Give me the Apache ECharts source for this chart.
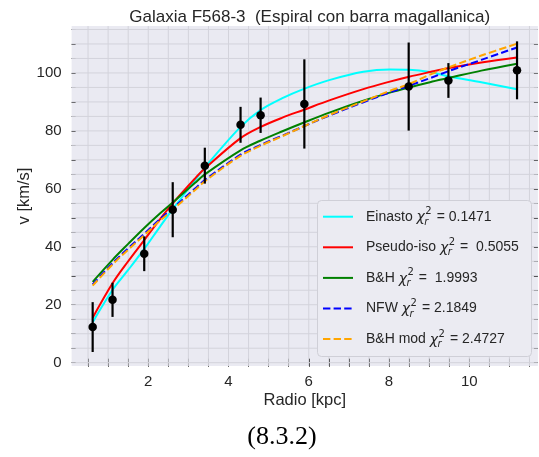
<!DOCTYPE html>
<html><head><meta charset="utf-8">
<script src="https://cdn.jsdelivr.net/npm/echarts@6/dist/echarts.min.js"></script>
<style>html,body{margin:0;padding:0;background:#fff;} #c{width:539px;height:457px;}</style>
</head><body><div id="c"></div>
<script>
// ---- observed data ----
const radius = [0.615, 1.11, 1.90, 2.61, 3.41, 4.30, 4.80, 5.89, 8.49, 9.48, 11.19];
const velocity = [12.3, 21.7, 37.6, 52.8, 68.0, 82.1, 85.4, 89.3, 95.3, 97.4, 100.9];
const velocityErr = [8.6, 5.9, 6.0, 9.5, 6.2, 6.2, 6.1, 15.4, 15.2, 6.0, 10.0];

// ---- model curves ----
const curveR    = [0.615, 1.11, 1.5, 1.9, 2.29, 2.61, 3.16, 3.41, 4.3, 4.79, 5.33, 5.88, 6.53, 7.36, 8.02, 8.5, 9.02, 9.5, 10.3, 11.19];
const einasto   = [14.0, 25.1, 32.0, 39.3, 46.9, 53.0, 62.8, 67.4, 81.4, 87.1, 91.2, 94.5, 97.6, 100.4, 101.2, 101.1, 100.3, 98.8, 96.8, 94.4];
const pseudoIso = [15.5, 27.4, 35.0, 42.3, 49.5, 55.0, 63.5, 67.0, 77.5, 81.3, 84.5, 87.3, 90.6, 94.4, 97.0, 98.7, 100.3, 101.7, 103.6, 105.3];
const bh        = [27.9, 35.5, 41.0, 46.5, 51.5, 55.3, 62.0, 65.0, 73.3, 76.6, 79.8, 82.9, 86.4, 90.4, 93.2, 95.0, 96.8, 98.3, 100.8, 103.2];
const nfw       = [27.0, 34.3, 39.5, 44.5, 49.5, 53.3, 60.0, 63.0, 71.8, 75.1, 78.3, 81.6, 85.4, 89.9, 93.3, 95.6, 98.2, 100.7, 104.5, 108.8];
const bhMod     = [26.6, 33.9, 39.0, 44.0, 49.0, 52.8, 59.5, 62.6, 71.4, 74.8, 78.1, 81.6, 85.6, 90.2, 93.8, 96.2, 99.4, 102.0, 106.0, 110.1];

const modelNames = ['Einasto', 'Pseudo-iso', 'B&H', 'NFW', 'B&H mod'];
const chi2Text   = ['= 0.1471', '=  0.5055', '=  1.9993', '= 2.1849', '= 2.4727'];

// ---- ticks ----
const xTickLabels = [2, 4, 6, 8, 10];
const yTickLabels = [0, 20, 40, 60, 80, 100];
const xMinorStep = 0.5, yMinorStep = 5;
const xRange = [0.09, 11.71], yRange = [-1.14, 116.2];

const xMinor = [], yMinor = [];
for (let k = 1; k * xMinorStep < xRange[1]; k++) xMinor.push(+(k * xMinorStep).toFixed(2));
for (let k = 0; k * yMinorStep < yRange[1]; k++) yMinor.push(k * yMinorStep);

const TXT = '#262626';
const FONT = '"Liberation Sans", Arial, sans-serif';
const colors = ['#00FFFF', '#FF0000', '#008000', '#0000FF', '#FFA500'];
const dashed = [false, false, false, true, true];
const curves = [einasto, pseudoIso, bh, nfw, bhMod];

const chart = echarts.init(document.getElementById('c'), null, {renderer: 'canvas'});

function mkX(pos, labels) {
  return {
    type: 'value', position: pos, min: xRange[0], max: xRange[1],
    axisLine: {show: false},
    axisTick: {show: true, inside: true, length: 4, customValues: xMinor, lineStyle: {color: TXT, width: 1}},
    axisLabel: labels ? {customValues: xTickLabels, margin: 8, fontSize: 15, color: TXT, fontFamily: FONT} : {show: false},
    splitLine: {show: false},
    name: labels ? 'Radio [kpc]' : '', nameLocation: 'middle', nameGap: 26, nameMoveOverlap: false,
    nameTextStyle: {fontSize: 16.5, color: TXT, fontFamily: FONT}
  };
}
function mkY(pos, labels) {
  return {
    type: 'value', position: pos, min: yRange[0], max: yRange[1],
    axisLine: {show: false},
    axisTick: {show: true, inside: true, length: 4, customValues: yMinor, lineStyle: {color: TXT, width: 1}},
    axisLabel: labels ? {customValues: yTickLabels, margin: 10, fontSize: 15, color: TXT, fontFamily: FONT} : {show: false},
    splitLine: {show: false},
    name: labels ? 'v [km/s]' : '', nameLocation: 'middle', nameGap: 39, nameMoveOverlap: false,
    nameTextStyle: {fontSize: 16.5, color: TXT, fontFamily: FONT}
  };
}

const series = [];
// grid lines (below everything)
const gridData = xMinor.map(v => [v, 0]).concat(yMinor.map(v => [v, 1]));
series.push({
  type: 'custom', z: 1, silent: true, xAxisIndex: 0, yAxisIndex: 0,
  data: gridData, encode: {x: -1, y: -1},
  renderItem: function (params, api) {
    const cs = params.coordSys;
    const v = api.value(0), o = api.value(1);
    let shape;
    if (o === 0) {
      const px = api.coord([v, yRange[0]])[0];
      shape = {x1: px, y1: cs.y, x2: px, y2: cs.y + cs.height};
    } else {
      const py = api.coord([xRange[0], v])[1];
      shape = {x1: cs.x, y1: py, x2: cs.x + cs.width, y2: py};
    }
    return {type: 'line', shape: shape, style: {stroke: '#d3d3db', lineWidth: 1}};
  }
});
curves.forEach((arr, i) => {
  series.push({
    type: 'line', name: modelNames[i], z: 3 + i, xAxisIndex: 0, yAxisIndex: 0,
    data: curveR.map((r, j) => [r, arr[j]]),
    smooth: 0.35, showSymbol: false, symbol: 'none',
    lineStyle: {color: colors[i], width: 2, type: dashed[i] ? [7.4, 3.2] : 'solid'}
  });
});
series.push({
  type: 'custom', z: 10, xAxisIndex: 0, yAxisIndex: 0,
  data: radius.map((r, i) => [r, velocity[i] - velocityErr[i], velocity[i] + velocityErr[i]]),
  encode: {x: 0, y: [1, 2]},
  renderItem: function (params, api) {
    const p1 = api.coord([api.value(0), api.value(1)]);
    const p2 = api.coord([api.value(0), api.value(2)]);
    return {type: 'line', shape: {x1: p1[0], y1: p1[1], x2: p2[0], y2: p2[1]}, style: {stroke: '#000', lineWidth: 2.2}};
  }
});
series.push({
  type: 'scatter', z: 11, xAxisIndex: 0, yAxisIndex: 0,
  data: radius.map((r, i) => [r, velocity[i]]),
  symbol: 'circle', symbolSize: 8.5, itemStyle: {color: '#000', opacity: 1}
});

// ---- legend (graphic) ----
const ctx = document.createElement('canvas').getContext('2d');
function tw(text, font) { ctx.font = font; return ctx.measureText(text).width; }
const legFont = '14px "Liberation Sans"';
const chiFont = 'italic 14px "DejaVu Sans"';
const supFont = '10px "DejaVu Sans"';
const subFont = 'italic 10px "DejaVu Sans"';
const gfx = [];
const box = {x: 317.5, y: 200.5, w: 214, h: 156};
gfx.push({type: 'rect', shape: {x: box.x, y: box.y, width: box.w, height: box.h, r: 4},
  style: {fill: '#EBEBF2', stroke: '#cfcfd7', lineWidth: 1}, z: 100});
modelNames.forEach((nm, i) => {
  const cy = 216.7 + i * 30.6;
  gfx.push({type: 'line', shape: {x1: 323, y1: cy, x2: 353, y2: cy},
    style: {stroke: colors[i], lineWidth: 2, lineDash: dashed[i] ? [7.4, 3.2] : null}, z: 101});
  let x = 366;
  const pre = nm + ' ';
  gfx.push({type: 'text', x: x, y: cy, z: 101, style: {text: pre, font: legFont, fill: TXT, align: 'left', verticalAlign: 'middle'}});
  x += tw(pre, legFont);
  gfx.push({type: 'text', x: x, y: cy + 1, z: 101, style: {text: 'χ', font: chiFont, fill: TXT, align: 'left', verticalAlign: 'middle'}});
  x += tw('χ', chiFont) + 0.5;
  gfx.push({type: 'text', x: x, y: cy - 5, z: 101, style: {text: '2', font: supFont, fill: TXT, align: 'left', verticalAlign: 'middle'}});
  gfx.push({type: 'text', x: x - 1, y: cy + 5.5, z: 101, style: {text: 'r', font: subFont, fill: TXT, align: 'left', verticalAlign: 'middle'}});
  x += Math.max(tw('2', supFont), tw('r', subFont)) + 5;
  gfx.push({type: 'text', x: x, y: cy, z: 101, style: {text: chi2Text[i], font: legFont, fill: TXT, align: 'left', verticalAlign: 'middle'}});
});
gfx.push({type: 'text', x: 282, y: 437, z: 101, style: {text: '(8.3.2)', font: '26px "Liberation Serif"', fill: '#000', align: 'center', verticalAlign: 'middle'}});

chart.setOption({
  animation: false,
  backgroundColor: '#ffffff',
  title: {text: 'Galaxia F568-3  (Espiral con barra magallanica)', left: 304.75, top: 4, textAlign: 'center',
    textStyle: {fontSize: 17, fontWeight: 'normal', color: TXT, fontFamily: FONT}},
  grid: {left: 71.6, right: 1.1, top: 26, bottom: 91, show: true, backgroundColor: '#EAEAF2', borderWidth: 0},
  xAxis: [mkX('bottom', true), mkX('top', false)],
  yAxis: [mkY('left', true), mkY('right', false)],
  series: series,
  graphic: gfx
});
</script></body></html>
